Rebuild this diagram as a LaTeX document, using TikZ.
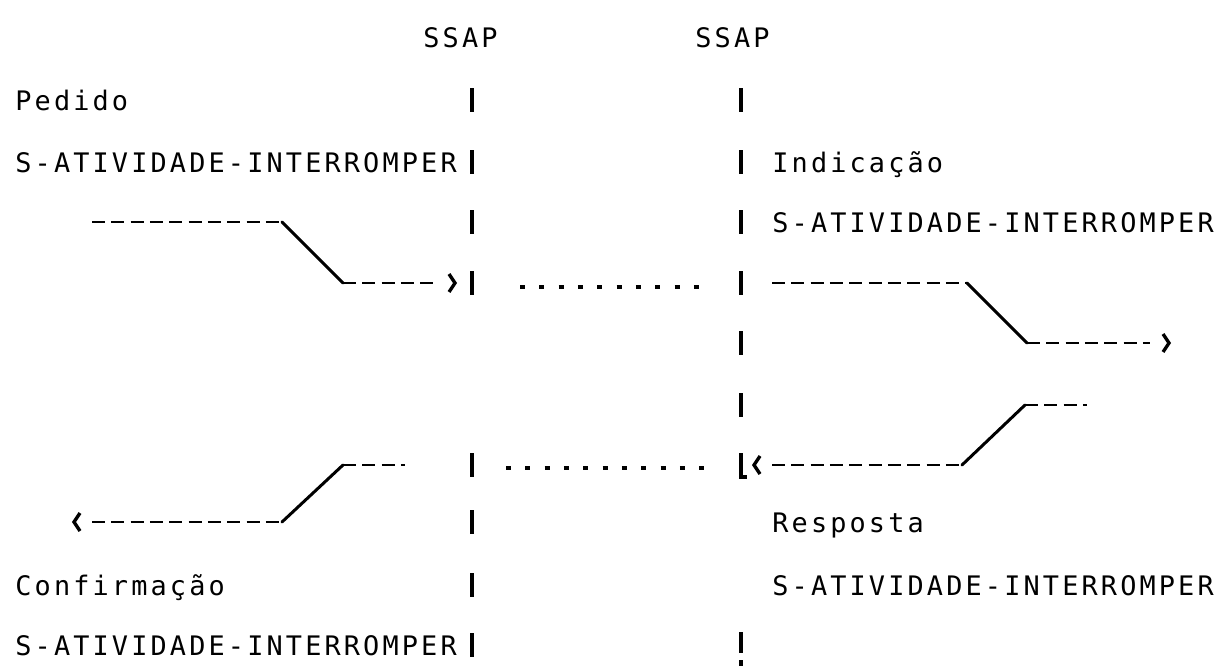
\documentclass[tikz,border=0pt]{standalone}
\usepackage{fontspec}
\usetikzlibrary{calc}
\newfontfamily\printfont{DejaVu Sans Mono}[LetterSpace=11.7]
\begin{document}
\begin{tikzpicture}[x=0.02cm,y=-0.02cm,
  txt/.style={font=\printfont\fontsize{15.3}{18}\selectfont, anchor=base west, inner sep=0pt},
  bar/.style={line width=2pt, line cap=butt},
  hyph/.style={line width=0.95pt, dash pattern=on 7.4pt off 3.6pt},
  slant/.style={line width=1.7pt, line cap=round},
  dots/.style={line width=2.8pt, dash pattern=on 2.8pt off 8.2pt},
  chev/.style={line width=1.9pt, line join=miter}]
\useasboundingbox (0,0) rectangle (1224,666);
\fill[white] (0,0) rectangle (1224,666);

% row centres
\def\rA{100}\def\rB{162}\def\rC{222}\def\rD{283}\def\rE{343}
\def\rF{405}\def\rG{465}\def\rH{522}\def\rI{585}\def\rJ{645}

% headings
\node[txt] (ssapL) at (423,48) {SSAP};
\node[txt] (ssapR) at (695,48) {SSAP};

% left-hand labels
\node[txt] (pedido)  at (15,\rA+10) {Pedido};
\node[txt] (pedS)    at (15,\rB+10) {S-ATIVIDADE-INTERROMPER};
\node[txt] (confirm) at (15,\rI+10) {Confirmação};
\node[txt] (confS)   at (15,\rJ+10) {S-ATIVIDADE-INTERROMPER};

% right-hand labels
\node[txt] (indic)   at (772,\rB+10) {Indicação};
\node[txt] (indS)    at (772,\rC+10) {S-ATIVIDADE-INTERROMPER};
\node[txt] (resp)    at (772,\rH+10) {Resposta};
\node[txt] (respS)   at (772,\rI+10) {S-ATIVIDADE-INTERROMPER};

% service boundaries, printed as broken bars
\foreach \r in {\rA,\rB,\rC,\rD,\rG,\rH,\rI,\rJ}
  \draw[bar] (472,\r-12) -- (472,\r+12);
\foreach \r in {\rA,\rB,\rC,\rD,\rE,\rF}
  \draw[bar] (741,\r-12) -- (741,\r+12);
\draw[bar] (741,\rG-12) -- (741,\rG+12) -- (747,\rG+12);
\draw[bar] (741,\rJ-13) -- (741,\rJ+8);
\draw[bar] (741,660) -- (741,680);

% request primitive
\coordinate (a1) at (92,\rC);  \coordinate (a2) at (282,\rC);
\coordinate (a3) at (343,\rD); \coordinate (a4) at (438,\rD);
\coordinate (a5) at (455,\rD);
\draw[hyph] (a1) -- (a2);
\draw[slant] (a2) -- (a3);
\draw[hyph] (a3) -- (a4);
\draw[chev] ($(a5)+(-6,-9)$) -- (a5) -- ($(a5)+(-6,9)$);

% indication primitive
\coordinate (b1) at (772,\rD);  \coordinate (b2) at (967,\rD);
\coordinate (b3) at (1027,\rE); \coordinate (b4) at (1150,\rE);
\coordinate (b5) at (1169,\rE);
\draw[hyph] (b1) -- (b2);
\draw[slant] (b2) -- (b3);
\draw[hyph] (b3) -- (b4);
\draw[chev] ($(b5)+(-6,-9)$) -- (b5) -- ($(b5)+(-6,9)$);

% response primitive
\coordinate (c1) at (1087,\rF); \coordinate (c2) at (1025,\rF);
\coordinate (c3) at (962,\rG);  \coordinate (c4) at (772,\rG);
\coordinate (c5) at (754,\rG);
\draw[hyph] (c2) -- (c1);
\draw[slant] (c2) -- (c3);
\draw[hyph] (c4) -- (c3);
\draw[chev] ($(c5)+(6,-9)$) -- (c5) -- ($(c5)+(6,9)$);

% confirmation primitive
\coordinate (d1) at (405,\rG); \coordinate (d2) at (343,\rG);
\coordinate (d3) at (282,\rH); \coordinate (d4) at (92,\rH);
\coordinate (d5) at (74,\rH);
\draw[hyph] (d2) -- (d1);
\draw[slant] (d2) -- (d3);
\draw[hyph] (d4) -- (d3);
\draw[chev] ($(d5)+(6,-9)$) -- (d5) -- ($(d5)+(6,9)$);

% peer exchange across the session layer
\coordinate (e1) at (520,\rD+4); \coordinate (e2) at (706,\rD+4);
\draw[dots] (e1) -- (e2);
\coordinate (f1) at (506,\rG+3); \coordinate (f2) at (712,\rG+3);
\draw[dots] (f1) -- (f2);
\end{tikzpicture}
\end{document}
